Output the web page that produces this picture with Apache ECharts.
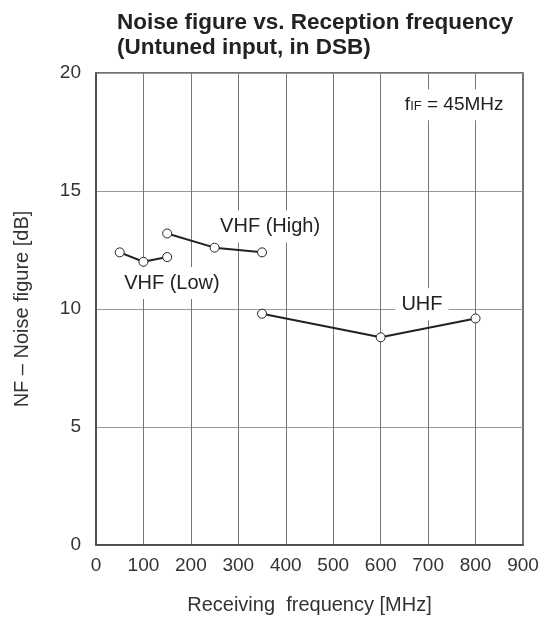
<!DOCTYPE html>
<html>
<head>
<meta charset="utf-8">
<script src="https://cdn.jsdelivr.net/npm/echarts@6/dist/echarts.min.js"></script>
<style>
  html, body { margin: 0; padding: 0; background: #fff; }
  #chart { width: 546px; height: 620px; }
</style>
</head>
<body>
<div id="chart"></div>
<script>
// values
var vhfLowFreq = [50, 100, 150];
var vhfLowNF = [12.4, 12.0, 12.2];
var vhfHighFreq = [150, 250, 350];
var vhfHighNF = [13.2, 12.6, 12.4];
var uhfFreq = [350, 600, 800];
var uhfNF = [9.8, 8.8, 9.6];

var FONT = '"Liberation Sans", Arial, sans-serif';

function pairs(xs, ys) {
  return xs.map(function (x, i) { return [x, ys[i]]; });
}

// text label pinned to a data coordinate
function note(coord, text, rich) {
  return {
    coord: coord,
    symbol: 'rect',
    symbolSize: 1,
    itemStyle: { color: 'rgba(0,0,0,0)' },
    label: {
      show: true,
      position: 'inside',
      formatter: text,
      color: '#222',
      fontSize: 20,
      fontFamily: FONT,
      backgroundColor: '#fff',
      padding: [6, 6],
      rich: rich
    }
  };
}

function lineSeries(name, data, notes) {
  return {
    name: name,
    type: 'line',
    data: data,
    symbol: 'circle',
    symbolSize: 9,
    showSymbol: true,
    lineStyle: { color: '#222', width: 2 },
    itemStyle: { color: '#fff', borderColor: '#222', borderWidth: 1 },
    markPoint: { silent: true, data: notes },
    z: 3
  };
}

var chart = echarts.init(document.getElementById('chart'));
chart.setOption({
  animation: false,
  title: {
    text: 'Noise figure vs. Reception frequency\n(Untuned input, in DSB)',
    left: 112,
    top: 5,
    textStyle: { fontFamily: FONT, fontWeight: 'bold', fontSize: 22.5, lineHeight: 25, color: '#222' }
  },
  grid: {
    left: 96, right: 23, top: 73, bottom: 74,
    show: true, borderColor: '#444', borderWidth: 1.5
  },
  xAxis: {
    type: 'value',
    min: 0, max: 900, interval: 100,
    name: 'Receiving  frequency [MHz]',
    nameLocation: 'middle',
    nameGap: 50,
    nameTextStyle: { fontFamily: FONT, fontSize: 20, color: '#333' },
    axisLine: { show: true, lineStyle: { color: '#444', width: 1.5 } },
    axisTick: { show: false },
    axisLabel: { fontFamily: FONT, fontSize: 19, color: '#333', margin: 11 },
    splitLine: { show: true, lineStyle: { color: '#777', width: 1 } }
  },
  yAxis: {
    type: 'value',
    min: 0, max: 20, interval: 5,
    name: 'NF – Noise figure [dB]',
    nameLocation: 'middle',
    nameGap: 64,
    nameTextStyle: { fontFamily: FONT, fontSize: 20, color: '#333' },
    axisLine: { show: true, lineStyle: { color: '#444', width: 1.5 } },
    axisTick: { show: false },
    axisLabel: { fontFamily: FONT, fontSize: 19, color: '#333', margin: 15 },
    splitLine: { show: true, lineStyle: { color: '#999', width: 1 } }
  },
  series: [
    lineSeries('VHF (Low)', pairs(vhfLowFreq, vhfLowNF), [note([160, 11.1], 'VHF (Low)')]),
    lineSeries('VHF (High)', pairs(vhfHighFreq, vhfHighNF), [note([367, 13.5], 'VHF (High)')]),
    lineSeries('UHF', pairs(uhfFreq, uhfNF), [
      note([687, 10.2], 'UHF'),
      note([755, 18.65], '{a|f}{b|IF}{a| = 45MHz}', {
        a: { fontSize: 19, fontFamily: FONT, color: '#222' },
        b: { fontSize: 13, fontFamily: FONT, color: '#222', padding: [4, 0, 0, 0] }
      })
    ])
  ]
});
</script>
</body>
</html>
